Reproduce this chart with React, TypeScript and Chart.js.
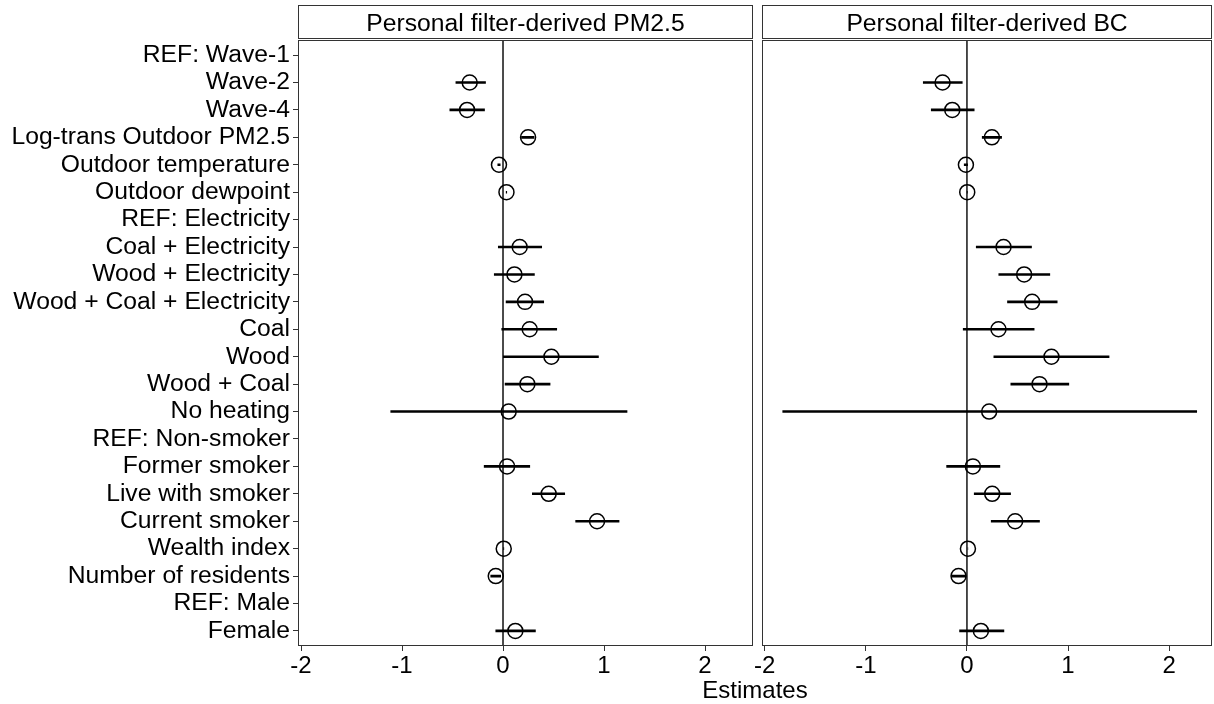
import React, { useEffect, useRef } from 'react';
import { Chart, registerables } from 'chart.js';

Chart.register(...registerables);

const categories = [
  'REF: Wave-1', 'Wave-2', 'Wave-4', 'Log-trans Outdoor PM2.5', 'Outdoor temperature',
  'Outdoor dewpoint', 'REF: Electricity', 'Coal + Electricity', 'Wood + Electricity',
  'Wood + Coal + Electricity', 'Coal', 'Wood', 'Wood + Coal', 'No heating',
  'REF: Non-smoker', 'Former smoker', 'Live with smoker', 'Current smoker',
  'Wealth index', 'Number of residents', 'REF: Male', 'Female',
];

const pm25Estimate = [null, -0.33, -0.356, 0.248, -0.04, 0.034, null, 0.165, 0.113, 0.218, 0.264, 0.479, 0.241, 0.056, null, 0.04, 0.452, 0.931, 0.007, -0.072, null, 0.122];
const pm25Lower = [null, -0.47, -0.53, 0.18, -0.055, 0.028, null, -0.05, -0.09, 0.027, -0.016, 0.0, 0.017, -1.115, null, -0.19, 0.287, 0.716, 0.003, -0.125, null, -0.075];
const pm25Upper = [null, -0.17, -0.18, 0.31, -0.025, 0.04, null, 0.386, 0.314, 0.406, 0.535, 0.948, 0.469, 1.231, null, 0.268, 0.614, 1.152, 0.011, -0.02, null, 0.324];

const bcEstimate = [null, -0.241, -0.145, 0.247, -0.01, 0.003, null, 0.362, 0.566, 0.645, 0.312, 0.836, 0.718, 0.22, null, 0.059, 0.25, 0.477, 0.01, -0.083, null, 0.138];
const bcLower = [null, -0.435, -0.356, 0.148, -0.03, -0.001, null, 0.089, 0.312, 0.398, -0.04, 0.263, 0.431, -1.825, null, -0.204, 0.069, 0.237, 0.008, -0.155, null, -0.076];
const bcUpper = [null, -0.043, 0.075, 0.346, 0.01, 0.007, null, 0.642, 0.823, 0.896, 0.668, 1.409, 1.011, 2.276, null, 0.329, 0.435, 0.721, 0.012, -0.007, null, 0.369];

const panelTitles = ['Personal filter-derived PM2.5', 'Personal filter-derived BC'];
const xTickValues = [-2, -1, 0, 1, 2];
const xRanges = [[-2.03, 2.475], [-2.026, 2.424]];
const yRange = [-0.55, 21.55];
const axisTitle = 'Estimates';

const FONT = '"Liberation Sans", Arial, Helvetica, sans-serif';
const INK = '#333333';

function buildDatasets(est: (number | null)[], lo: (number | null)[], hi: (number | null)[]) {
  const bars: any[] = [];
  const pts: any[] = [];
  categories.forEach((_, i) => {
    if (est[i] == null) return;
    bars.push({ x: lo[i], y: i }, { x: hi[i], y: i }, { x: hi[i], y: null });
    pts.push({ x: est[i], y: i });
  });
  return [
    { type: 'line', data: [{ x: 0, y: yRange[0] }, { x: 0, y: yRange[1] }], borderColor: INK, borderWidth: 1, pointRadius: 0, order: 3 },
    { type: 'line', data: bars, borderColor: '#000', borderWidth: 2.6, pointRadius: 0, spanGaps: false, order: 2 },
    { type: 'scatter', data: pts, pointRadius: 7.5, pointBorderWidth: 1.5, borderColor: '#000', backgroundColor: 'rgba(0,0,0,0)', pointBackgroundColor: 'rgba(0,0,0,0)', pointBorderColor: '#000', order: 1 },
  ];
}

function panelPlugin(title: string) {
  return {
    id: 'panelFrame',
    afterDraw(chart: any) {
      const { ctx, chartArea: a } = chart;
      ctx.save();
      ctx.strokeStyle = INK;
      ctx.lineWidth = 1;
      const l = Math.round(a.left) + 0.5;
      const r = Math.round(a.right) - 0.5;
      const t = Math.round(a.top) + 0.5;
      const b = Math.round(a.bottom) - 0.5;
      ctx.strokeRect(l, t, r - l, b - t);
      const st = 5.5;
      const sb = Math.round(a.top) - 1.5;
      ctx.fillStyle = '#ffffff';
      ctx.fillRect(l, st, r - l, sb - st);
      ctx.strokeRect(l, st, r - l, sb - st);
      ctx.fillStyle = '#000';
      ctx.font = `24.7px ${FONT}`;
      ctx.textAlign = 'center';
      ctx.textBaseline = 'alphabetic';
      ctx.fillText(title, (a.left + a.right) / 2, 31);
      ctx.restore();
    },
  };
}

function makeConfig(panel: number, est: any[], lo: any[], hi: any[], showY: boolean, padding: any) {
  const gridOpts = { display: true, drawOnChartArea: false, drawTicks: true, tickLength: 5, tickColor: INK, color: INK, lineWidth: 1, tickWidth: 1 };
  return {
    type: 'scatter',
    data: { datasets: buildDatasets(est, lo, hi) },
    options: {
      responsive: false, animation: false, events: [],
      layout: { padding },
      plugins: { legend: { display: false }, tooltip: { enabled: false }, title: { display: false } },
      scales: {
        x: {
          type: 'linear', position: 'bottom', min: xRanges[panel][0], max: xRanges[panel][1],
          afterBuildTicks: (ax: any) => { ax.ticks = xTickValues.map((v) => ({ value: v })); },
          afterFit: (ax: any) => { ax.height = 58; },
          grid: gridOpts, border: { display: false },
          ticks: { color: '#000', font: { family: FONT, size: 24 }, padding: 1, maxRotation: 0, autoSkip: false, callback: (v: number) => String(v) },
        },
        y: {
          type: 'linear', position: 'left', display: showY, reverse: true, min: yRange[0], max: yRange[1],
          afterBuildTicks: (ax: any) => { ax.ticks = categories.map((_, i) => ({ value: i })); },
          afterFit: (ax: any) => { if (showY) ax.width = 298; },
          grid: gridOpts, border: { display: false },
          ticks: { color: '#000', font: { family: FONT, size: 24.7 }, padding: 3, autoSkip: false, callback: (v: number) => categories[v] },
        },
      },
    },
    plugins: [panelPlugin(panelTitles[panel])],
  };
}

export default function App() {
  const leftRef = useRef<HTMLCanvasElement>(null);
  const rightRef = useRef<HTMLCanvasElement>(null);

  useEffect(() => {
    const c1 = new Chart(leftRef.current as any, makeConfig(0, pm25Estimate, pm25Lower, pm25Upper, true, { top: 40, right: 9, left: 0, bottom: 0 }) as any);
    const c2 = new Chart(rightRef.current as any, makeConfig(1, bcEstimate, bcLower, bcUpper, false, { top: 40, right: 9, left: 9, bottom: 0 }) as any);
    return () => { c1.destroy(); c2.destroy(); };
  }, []);

  return (
    <div style={{ position: 'absolute', left: 0, top: 0, width: 1214, height: 704, background: '#fff', overflow: 'hidden' }}>
      <canvas ref={leftRef} width={762} height={704} style={{ position: 'absolute', left: 0, top: 0, width: 762, height: 704 }} />
      <canvas ref={rightRef} width={468} height={704} style={{ position: 'absolute', left: 753, top: 0, width: 468, height: 704 }} />
      <div style={{ position: 'absolute', left: 298, width: 914, top: 676, textAlign: 'center', fontFamily: FONT, fontSize: 24, lineHeight: '28px', color: '#000' }}>{axisTitle}</div>
    </div>
  );
}
